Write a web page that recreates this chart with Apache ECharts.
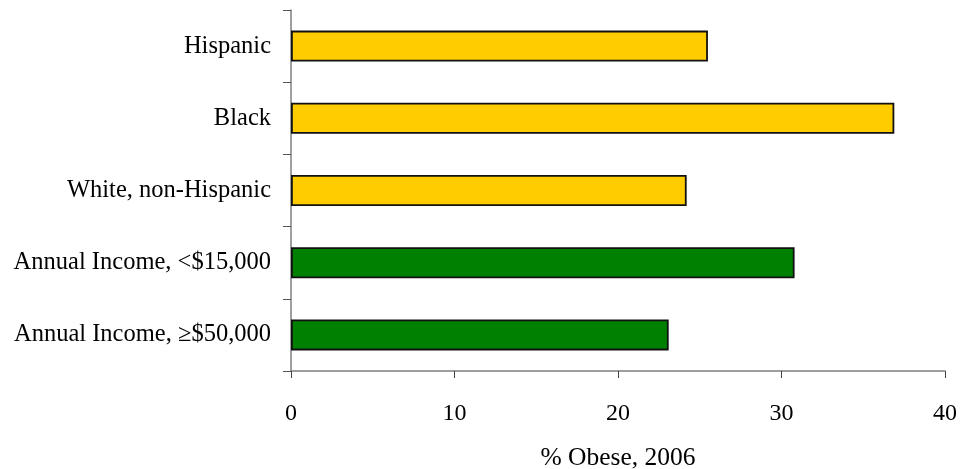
<!DOCTYPE html>
<html>
<head>
<meta charset="utf-8">
<script src="https://cdn.jsdelivr.net/npm/echarts@6/dist/echarts.min.js"></script>
<style>
  html, body { margin: 0; padding: 0; background: #fff; }
  #chart { width: 961px; height: 469px; }
</style>
</head>
<body>
<div id="chart"></div>
<script>
// Obesity prevalence by group, 2006
const categories = [
  'Hispanic',
  'Black',
  'White, non-Hispanic',
  'Annual Income, <$15,000',
  'Annual Income, \u2265$50,000'
];
const obesePct = [25.5, 36.9, 24.2, 30.8, 23.1];
const groupType = ['race', 'race', 'race', 'income', 'income'];
const xTicks = [0, 10, 20, 30, 40];

const fillByType = { race: '#FFCC00', income: '#008000' };
const fontFamily = '"Liberation Serif", "Times New Roman", serif';

const chart = echarts.init(document.getElementById('chart'));
chart.setOption({
  animation: false,
  backgroundColor: '#ffffff',
  grid: { left: 291, right: 16, top: 10, bottom: 98, containLabel: false, outerBoundsMode: 'none' },
  xAxis: {
    type: 'value',
    min: xTicks[0],
    max: xTicks[xTicks.length - 1],
    interval: xTicks[1] - xTicks[0],
    name: '% Obese, 2006',
    nameLocation: 'middle',
    nameGap: 74,
    nameTextStyle: { fontFamily, fontSize: 25.5, color: '#000' },
    axisLine: { show: true, lineStyle: { color: '#7f7f7f', width: 1.5 } },
    axisTick: { show: true, length: 7, lineStyle: { color: '#444', width: 1 } },
    axisLabel: { fontFamily, fontSize: 24, color: '#000', margin: 31 },
    splitLine: { show: false }
  },
  yAxis: {
    type: 'category',
    data: categories,
    inverse: true,
    axisLine: { show: true, lineStyle: { color: '#7f7f7f', width: 1.5 } },
    axisTick: { show: true, length: 8, lineStyle: { color: '#555', width: 1 } },
    axisLabel: { fontFamily, fontSize: 24.5, color: '#000', margin: 20 }
  },
  series: [{
    type: 'bar',
    barWidth: 31,
    data: obesePct.map((v, i) => ({
      value: v,
      itemStyle: { color: fillByType[groupType[i]] }
    })),
    itemStyle: { borderColor: '#111', borderWidth: 1.8 }
  }]
});
</script>
</body>
</html>
